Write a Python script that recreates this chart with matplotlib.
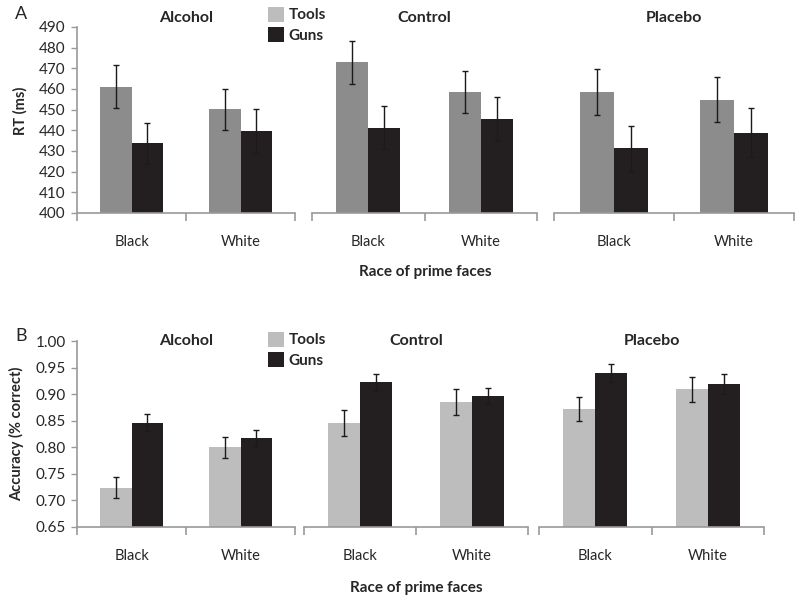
import matplotlib
matplotlib.use('Agg')
import matplotlib.pyplot as plt
from matplotlib.patches import Patch
import numpy as np

plt.rcParams['font.family'] = ['Lato', 'DejaVu Sans']

# data
conditions = ['Alcohol', 'Control', 'Placebo']
races = ['Black', 'White']
series = ['Tools', 'Guns']

# panel A: reaction time (ms), per condition [Black, White]
rt_tools = [[461.0, 450.2], [472.9, 458.5], [458.5, 454.8]]
rt_guns = [[433.7, 439.7], [441.3, 445.6], [431.3, 438.9]]
rt_tools_err = [[10.4, 10.0], [10.3, 10.0], [11.3, 10.8]]
rt_guns_err = [[10.0, 10.8], [10.5, 10.7], [10.8, 11.7]]

# panel B: accuracy, per condition [Black, White]
acc_tools = [[0.724, 0.800], [0.846, 0.885], [0.872, 0.909]]
acc_guns = [[0.846, 0.818], [0.922, 0.897], [0.939, 0.919]]
acc_tools_err = [[0.020, 0.020], [0.025, 0.024], [0.023, 0.024]]
acc_guns_err = [[0.016, 0.015], [0.016, 0.015], [0.017, 0.018]]

# styling
W, H = 800, 600
tools_dark = '#8c8c8c'
tools_light = '#bdbdbd'
guns_col = '#231f20'
axis_col = '#9a9a9a'
text_col = '#262626'
bar_w = 0.285

fig = plt.figure(figsize=(8, 6), dpi=100)


def px_box(x0, x1, ytop, ybot):
    return [x0 / W, 1 - ybot / H, (x1 - x0) / W, (ybot - ytop) / H]


def draw_panel(boxes, tools, guns, tools_err, guns_err, tools_col, ylim, yticks,
               fmt, ylabel, title_y, ylabel_xy):
    axes = []
    for i, (cond, box) in enumerate(zip(conditions, boxes)):
        ax = fig.add_axes(box)
        x = np.arange(len(races))
        ax.bar(x - bar_w / 2, tools[i], bar_w, color=tools_col, zorder=2)
        ax.bar(x + bar_w / 2, guns[i], bar_w, color=guns_col, zorder=2)
        ax.errorbar(x - bar_w / 2, tools[i], yerr=tools_err[i], fmt='none',
                    ecolor='#1a1a1a', elinewidth=1, capsize=2.5, capthick=1, zorder=3)
        ax.errorbar(x + bar_w / 2, guns[i], yerr=guns_err[i], fmt='none',
                    ecolor='#1a1a1a', elinewidth=1, capsize=2.5, capthick=1, zorder=3)
        ax.set_xlim(-0.5, 1.5)
        ax.set_ylim(*ylim)
        for s in ['top', 'right']:
            ax.spines[s].set_visible(False)
        ax.spines['bottom'].set_color(axis_col)
        ax.spines['bottom'].set_linewidth(1.2)
        ax.set_xticks([-0.5, 0.5, 1.5])
        ax.set_xticklabels([])
        ax.tick_params(axis='x', which='major', length=6, width=1.2, color=axis_col)
        ax.set_xticks([0, 1], minor=True)
        ax.set_xticklabels(races, minor=True)
        ax.tick_params(axis='x', which='minor', length=0, pad=16, labelsize=10.5,
                       labelcolor=text_col)
        ax.text(0.5, title_y, cond, transform=ax.transAxes, ha='center', va='center',
                fontsize=11.5, fontweight='bold', color=text_col)
        if i == 0:
            ax.spines['left'].set_color(axis_col)
            ax.spines['left'].set_linewidth(1.2)
            ax.set_yticks(yticks)
            ax.set_yticklabels([fmt.format(v) for v in yticks])
            ax.tick_params(axis='y', length=4, width=1, color=axis_col, labelsize=11,
                           labelcolor=text_col, pad=4)
            ax.set_ylabel(ylabel, fontsize=10.5, fontweight='bold', color=text_col)
            ax.yaxis.set_label_coords(*ylabel_xy)
        else:
            ax.spines['left'].set_visible(False)
            ax.set_yticks([])
        axes.append(ax)
    return axes


# panel A
boxes_a = [px_box(77, 295, 27, 213), px_box(312, 537, 27, 213), px_box(554, 794, 27, 213)]
axes_a = draw_panel(boxes_a, rt_tools, rt_guns, rt_tools_err, rt_guns_err, tools_dark,
                    (400, 490), np.arange(400, 491, 10), '{:.0f}', 'RT (ms)', 1.05,
                    (-0.225, 0.55))

# panel B
boxes_b = [px_box(77, 295, 341, 527), px_box(304, 528, 341, 527), px_box(539, 764, 341, 527)]
axes_b = draw_panel(boxes_b, acc_tools, acc_guns, acc_tools_err, acc_guns_err, tools_light,
                    (0.65, 1.0), np.arange(0.65, 1.001, 0.05), '{:.2f}',
                    'Accuracy (% correct)', 1.0, (-0.245, 0.5))

# legends
handles = [Patch(facecolor=tools_light, label=series[0]),
           Patch(facecolor=guns_col, label=series[1])]
for ytop in (-4, 321):
    fig.legend(handles=handles, loc='upper left',
               bbox_to_anchor=(257 / W, 1 - ytop / H), frameon=False,
               handlelength=1.05, handleheight=1.15, handletextpad=0.3,
               labelspacing=0.3, borderpad=0.2, prop={'size': 11, 'weight': 'bold'},
               labelcolor=text_col)

# panel letters and x labels
fig.text(15 / W, 1 - 14 / H, 'A', fontsize=13, ha='left', va='center', color=text_col)
fig.text(15 / W, 1 - 336 / H, 'B', fontsize=13, ha='left', va='center', color=text_col)
fig.text(425 / W, 1 - 272 / H, 'Race of prime faces', fontsize=11, fontweight='bold',
         ha='center', va='center', color=text_col)
fig.text(416 / W, 1 - 588 / H, 'Race of prime faces', fontsize=11, fontweight='bold',
         ha='center', va='center', color=text_col)

plt.savefig('out.png', dpi=100)
